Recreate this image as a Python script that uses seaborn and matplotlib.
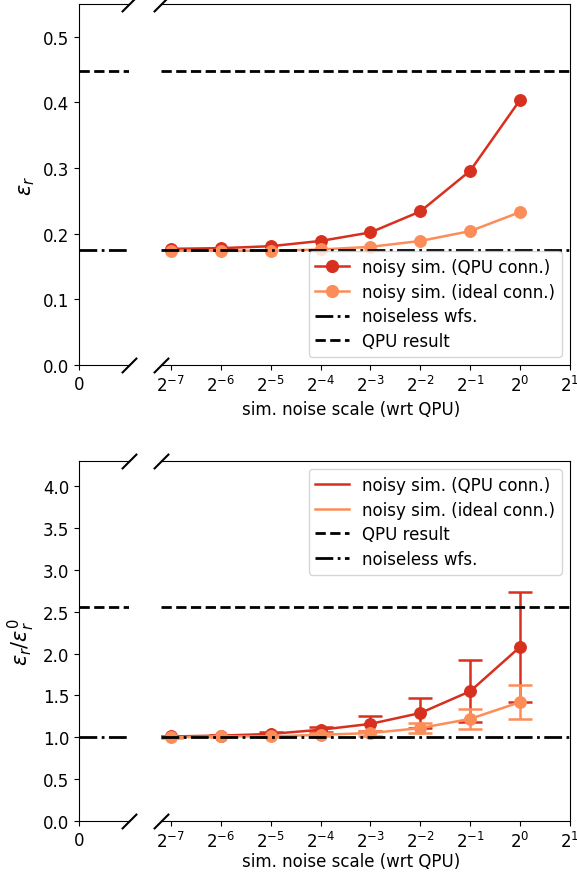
import numpy as np
import pandas as pd
import matplotlib
matplotlib.use("Agg")
import matplotlib.pyplot as plt
from matplotlib.lines import Line2D
import seaborn as sns

# ---- data ----
exponents = [-7, -6, -5, -4, -3, -2, -1, 0]
tick_exps = [-7, -6, -5, -4, -3, -2, -1, 0, 1]
qpu_conn_err = [0.177, 0.178, 0.181, 0.189, 0.202, 0.234, 0.296, 0.404]
ideal_conn_err = [0.174, 0.174, 0.174, 0.176, 0.180, 0.189, 0.204, 0.233]
noiseless_err = 0.175
qpu_result_err = 0.448

qpu_conn_ratio = [1.01, 1.02, 1.04, 1.09, 1.16, 1.29, 1.55, 2.08]
qpu_conn_ratio_sd = [0.01, 0.01, 0.02, 0.03, 0.09, 0.18, 0.37, 0.66]
ideal_conn_ratio = [1.00, 1.01, 1.01, 1.03, 1.05, 1.11, 1.22, 1.42]
ideal_conn_ratio_sd = [0.005, 0.01, 0.01, 0.02, 0.03, 0.06, 0.12, 0.20]
noiseless_ratio = 1.0
qpu_result_ratio = 2.56

labels = ["noisy sim. (QPU conn.)", "noisy sim. (ideal conn.)", "noiseless wfs.", "QPU result"]
red = "#d7301f"
orange = "#fc8d59"

FS = 12
plt.rcParams["font.size"] = FS
plt.rcParams["font.family"] = ["DejaVu Sans"]

x = [2.0 ** e for e in exponents]
df = pd.DataFrame({"x": x, "qpu": qpu_conn_err, "ideal": ideal_conn_err,
                   "qpu_r": qpu_conn_ratio, "ideal_r": ideal_conn_ratio})

fig = plt.figure(figsize=(5.77, 8.78), dpi=100)
W, H = 577, 878
LW = 1.8
HLW = 2.0

def px_axes(x0, x1, ytop, ybot):
    return fig.add_axes([x0 / W, (H - ybot) / H, (x1 - x0) / W, (ybot - ytop) / H])

def setup_pair(axL, axR, ymax, yticks):
    for a in (axL, axR):
        a.set_ylim(0, ymax)
    axL.set_xlim(0, 1)
    axL.set_xticks([0])
    axL.set_xticklabels(["0"])
    axL.set_yticks(yticks)
    axL.spines["right"].set_visible(False)
    axR.spines["left"].set_visible(False)
    axR.tick_params(axis="y", left=False, labelleft=False)
    axR.set_xscale("log", base=2)
    axR.set_xlim(2.0 ** -7.2, 2.0 ** 1)
    axR.set_xticks([2.0 ** e for e in tick_exps])
    axR.set_xticklabels([f"$2^{{{e}}}$" for e in tick_exps])
    axR.minorticks_off()
    kw = dict(marker=[(-1, -1), (1, 1)], markersize=11, linestyle="none",
              color="k", mec="k", mew=1.5, clip_on=False)
    axL.plot([1, 1], [0, 1], transform=axL.transAxes, **kw)
    axR.plot([0, 0], [0, 1], transform=axR.transAxes, **kw)

# ---- top panel ----
axL1 = px_axes(79, 129, 5, 366)
axR1 = px_axes(161, 570, 5, 366)
setup_pair(axL1, axR1, 0.55, [0.0, 0.1, 0.2, 0.3, 0.4, 0.5])

sns.lineplot(data=df, x="x", y="qpu", ax=axR1, color=red, marker="o", markersize=8.5,
             markeredgecolor=red, linewidth=LW, legend=False)
sns.lineplot(data=df, x="x", y="ideal", ax=axR1, color=orange, marker="o", markersize=8.5,
             markeredgecolor=orange, linewidth=LW, legend=False)
for a in (axL1, axR1):
    a.axhline(noiseless_err, color="k", ls="-.", lw=HLW, zorder=5)
    a.axhline(qpu_result_err, color="k", ls="--", lw=HLW, zorder=5)
axR1.set_ylabel("")
axR1.set_xlabel("")
axL1.set_ylabel(r"$\varepsilon_r$", fontsize=15)
h_top = [Line2D([], [], color=red, marker="o", markersize=8.5, lw=LW),
         Line2D([], [], color=orange, marker="o", markersize=8.5, lw=LW),
         Line2D([], [], color="k", ls="-.", lw=HLW),
         Line2D([], [], color="k", ls="--", lw=HLW)]
axR1.legend(h_top, labels, loc="lower right", fontsize=FS, labelspacing=0.4)
fig.text(351 / W, 1 - 410 / H, "sim. noise scale (wrt QPU)", ha="center", va="center", fontsize=FS)

# ---- bottom panel ----
axL2 = px_axes(79, 129, 462, 822)
axR2 = px_axes(161, 570, 462, 822)
setup_pair(axL2, axR2, 4.3, [0.0, 0.5, 1.0, 1.5, 2.0, 2.5, 3.0, 3.5, 4.0])

axR2.errorbar(x, qpu_conn_ratio, yerr=qpu_conn_ratio_sd, fmt="none", ecolor=red,
              elinewidth=LW, capsize=8.5, capthick=LW, zorder=2)
axR2.errorbar(x, ideal_conn_ratio, yerr=ideal_conn_ratio_sd, fmt="none", ecolor=orange,
              elinewidth=LW, capsize=8.5, capthick=LW, zorder=3)
sns.lineplot(data=df, x="x", y="qpu_r", ax=axR2, color=red, marker="o", markersize=8.5,
             markeredgecolor=red, linewidth=LW, legend=False, zorder=2)
sns.lineplot(data=df, x="x", y="ideal_r", ax=axR2, color=orange, marker="o", markersize=8.5,
             markeredgecolor=orange, linewidth=LW, legend=False, zorder=3)
for a in (axL2, axR2):
    a.axhline(noiseless_ratio, color="k", ls="-.", lw=HLW, zorder=5)
    a.axhline(qpu_result_ratio, color="k", ls="--", lw=HLW, zorder=5)
axR2.set_ylabel("")
axR2.set_xlabel("")
axL2.set_ylabel(r"$\varepsilon_r/\varepsilon_r^0$", fontsize=15)
h_bot = [Line2D([], [], color=red, lw=LW),
         Line2D([], [], color=orange, lw=LW),
         Line2D([], [], color="k", ls="--", lw=HLW),
         Line2D([], [], color="k", ls="-.", lw=HLW)]
axR2.legend(h_bot, [labels[0], labels[1], labels[3], labels[2]], loc="upper right",
            fontsize=FS, labelspacing=0.4)
fig.text(351 / W, 1 - 862 / H, "sim. noise scale (wrt QPU)", ha="center", va="center", fontsize=FS)

fig.savefig("out.png", dpi=100)
